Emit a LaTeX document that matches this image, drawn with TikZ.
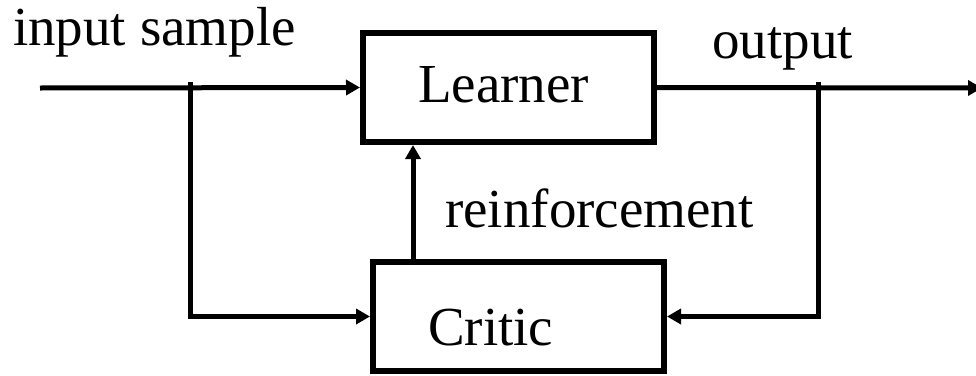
\documentclass[tikz,border=0pt]{standalone}
\usepackage{fontspec}
\setmainfont{Liberation Serif}
\usetikzlibrary{arrows.meta}
\begin{document}
\begin{tikzpicture}[x=1pt,y=-1pt,
  blockbox/.style={draw, line width=6pt, minimum width=291pt, minimum height=109pt,
    text width=181pt, inner xsep=55pt, inner ysep=0pt, align=left, font=\fontsize{55}{60}\selectfont},
  lbl/.style={inner sep=0pt, font=\fontsize{55}{60}\selectfont},
  conn/.style={line width=5pt},
  arr/.style={conn, -{Triangle[length=14pt,width=15pt]}}]
\useasboundingbox (0,0) rectangle (976,375);
\node[blockbox, text height=40pt, text depth=11pt] (learner) at (508.5,87.5) {Learner};
\node[blockbox, text height=57pt, text depth=0pt] (critic) at (518.5,316.5) {Critic};
\node[lbl, anchor=base west] (lin) at (13,45) {input sample};
\node[lbl, anchor=base west] (lout) at (712,58) {output};
\node[lbl, anchor=base west] (lrf) at (445,227) {reinforcement};
\coordinate (start) at (40,88);
\coordinate (btop) at (190,82);
\coordinate (otop) at (818,82);
\coordinate (oend) at (982,88);
\coordinate (rf) at (413,262);
\draw[arr] (start) -- (learner.west);
\draw[arr] (learner.east) -- (oend);
\draw[arr] (btop) |- (critic.west);
\draw[arr] (otop) |- (critic.east);
\draw[arr] (rf) -- (rf |- learner.south);
\end{tikzpicture}
\end{document}
